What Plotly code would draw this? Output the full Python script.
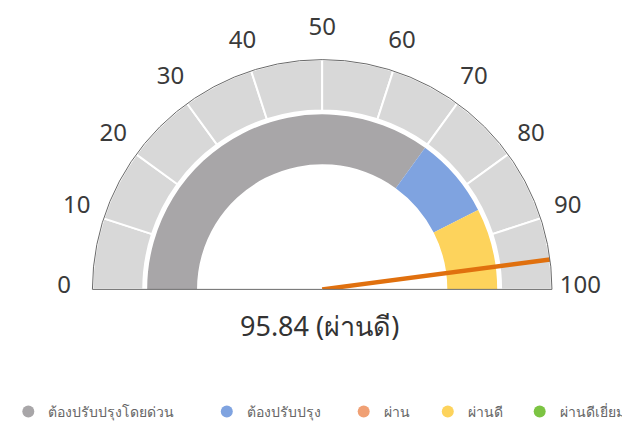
import math
import plotly.graph_objects as go

# ---- data ----
score = 95.84
score_label = "95.84 (ผ่านดี)"
tick_values = [0, 10, 20, 30, 40, 50, 60, 70, 80, 90, 100]
tick_labels = ["0", "10", "20", "30", "40", "50", "60", "70", "80", "90", "100"]
scale_segments_start = [0, 10, 20, 30, 40, 50, 60, 70, 80, 90]
band_names = ["ต้องปรับปรุงโดยด่วน", "ต้องปรับปรุง", "ผ่าน", "ผ่านดี", "ผ่านดีเยี่ยม"]
band_from = [0, 70, 85, 85, 100]
band_to = [70, 85, 85, 100, 100]
band_colors = ["#a8a6a8", "#7fa3e0", "#f0a074", "#fdd35c", "#7cc443"]

MAX = 100.0
DEG = 180.0 / MAX


def ang(v):
    return v * DEG


# geometry (screen pixels)
OFF = 8            # browser body margin
FW, FH = 630, 429
cx, cy = 315, 292
R_OUT = 235
R_RING_IN = 183
R_BAND_OUT = 179
R_BAND_IN = 128
R_LABEL = 264
LABEL_LIFT = 2
R2 = 272           # radius of the label layer (must contain R_LABEL)
SEC2 = 3           # label layer sector overhang in degrees


def px(sx):
    return (sx - OFF) / FW


def py(sy):
    return 1 - (sy - OFF) / FH


fig = go.Figure()

# outer scale ring
fig.add_trace(go.Barpolar(
    theta=[ang(s + 5) for s in scale_segments_start],
    width=[10 * DEG] * len(scale_segments_start),
    base=[R_RING_IN] * len(scale_segments_start),
    r=[R_OUT - R_RING_IN] * len(scale_segments_start),
    marker=dict(color="#d8d8d8", line=dict(color="white", width=2)),
    showlegend=False, hoverinfo="skip",
))

# inner colored band
for f, t, c in zip(band_from, band_to, band_colors):
    if t <= f:
        continue
    fig.add_trace(go.Barpolar(
        theta=[ang((f + t) / 2)],
        width=[ang(t - f)],
        base=[R_BAND_IN],
        r=[R_BAND_OUT - R_BAND_IN],
        marker=dict(color=c, line=dict(width=0)),
        showlegend=False, hoverinfo="skip",
    ))

# needle
fig.add_trace(go.Scatterpolar(
    r=[0, R_OUT],
    theta=[ang(score), ang(score)],
    mode="lines",
    line=dict(color="#e0700e", width=4.5),
    showlegend=False, hoverinfo="skip",
))

# scale labels (in a larger twin polar lifted by a few px)
fig.add_trace(go.Scatterpolar(
    r=[R_LABEL] * len(tick_values),
    theta=[ang(v) for v in tick_values],
    text=tick_labels,
    mode="text",
    textposition="middle center",
    textfont=dict(size=24, color="#3a3a3a"),
    cliponaxis=False,
    subplot="polar2",
    showlegend=False, hoverinfo="skip",
))

# legend entries, one legend each so they can be placed like the reference
legend_circle_x = [17, 220, 360, 446, 540]
legend_y = 412
leg_layout = {}
for i, (n, c) in enumerate(zip(band_names, band_colors)):
    lname = "legend" if i == 0 else f"legend{i + 1}"
    fig.add_trace(go.Scatterpolar(
        r=[None], theta=[None], mode="markers",
        marker=dict(color=c, size=12, symbol="circle"),
        name=n, legend=lname,
    ))
    leg_layout[lname] = dict(
        x=px(legend_circle_x[i] - 23), xanchor="left",
        y=py(legend_y), yanchor="middle",
        font=dict(size=14, color="#666"),
        bgcolor="rgba(0,0,0,0)",
    )

cy2 = cy - LABEL_LIFT
below2 = R2 * math.sin(math.radians(SEC2))

fig.update_layout(
    width=FW, height=FH,
    margin=dict(l=0, r=0, t=0, b=0),
    paper_bgcolor="white",
    font=dict(family="Noto Sans, Open Sans, sans-serif", color="#333"),
    polar=dict(
        domain=dict(x=[px(cx - R_OUT), px(cx + R_OUT)],
                    y=[py(cy), py(cy - R_OUT)]),
        sector=[0, 180],
        bgcolor="rgba(0,0,0,0)",
        radialaxis=dict(range=[0, R_OUT], visible=False),
        angularaxis=dict(
            type="linear", rotation=180, direction="clockwise",
            showticklabels=False, ticks="", showgrid=False,
            showline=True, linecolor="#6a6a6a", linewidth=1,
        ),
    ),
    polar2=dict(
        domain=dict(x=[px(cx - R2), px(cx + R2)],
                    y=[py(cy2 + below2), py(cy2 - R2)]),
        sector=[-SEC2, 180 + SEC2],
        bgcolor="rgba(0,0,0,0)",
        radialaxis=dict(range=[0, R2], visible=False),
        angularaxis=dict(
            type="linear", rotation=180, direction="clockwise",
            visible=False, showgrid=False,
        ),
    ),
    annotations=[dict(
        x=px(312), y=py(325), xref="paper", yref="paper",
        xanchor="center", yanchor="middle",
        text=score_label, showarrow=False,
        font=dict(size=27, color="#333"),
    )],
    **leg_layout,
)

fig.write_html("out.html")
